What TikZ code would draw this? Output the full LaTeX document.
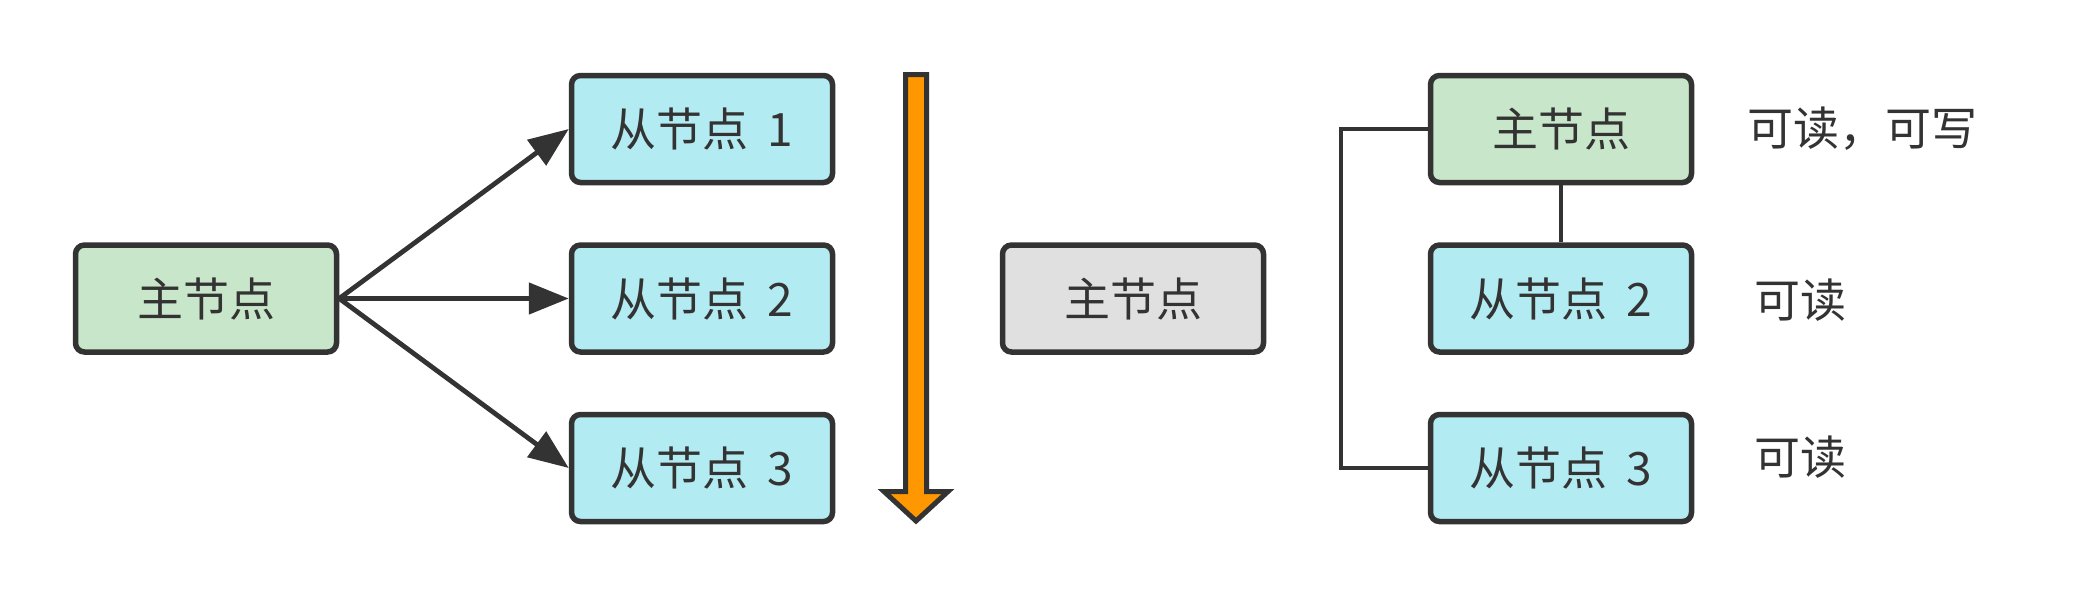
\documentclass[tikz,border=0pt]{standalone}
\usepackage{fontspec}
\setmainfont{Noto Sans CJK SC}
\usetikzlibrary{arrows.meta}
\definecolor{ink}{HTML}{333333}
\definecolor{mgreen}{HTML}{C8E6C9}
\definecolor{scyan}{HTML}{B2EBF2}
\definecolor{ogray}{HTML}{E0E0E0}
\definecolor{orng}{HTML}{FF9800}
\begin{document}
\begin{tikzpicture}[x=1pt,y=-1pt,
  box/.style={draw=ink, line width=5.5pt, rounded corners=9pt, minimum width=261pt, minimum height=107pt, inner sep=0pt, text=ink, font=\fontsize{46}{50}\selectfont},
  mbox/.style={box, fill=mgreen},
  sbox/.style={box, fill=scyan},
  gbox/.style={box, fill=ogray},
  conn/.style={draw=ink, line width=4.8pt},
  arr/.style={conn, -{Triangle[length=40pt,width=31pt]}},
  lbl/.style={anchor=west, inner sep=0pt, text=ink, font=\fontsize{46}{50}\selectfont}]
\useasboundingbox (0,0) rectangle (2076,597);
% left part
\node[mbox] (m) at (206,298.5) {主节点};
\node[sbox] (s1) at (702,129) {从节点\hspace{0.2em} 1};
\node[sbox] (s2) at (702,298.5) {从节点\hspace{0.2em} 2};
\node[sbox] (s3) at (702,468) {从节点\hspace{0.2em} 3};
\draw[arr] (m.east) -- (s1.west);
\draw[arr] (m.east) -- (s2.west);
\draw[arr] (m.east) -- (s3.west);
% orange arrow
\draw[draw=ink, fill=orng, line width=5pt, line join=miter]
  (905.5,74.5) -- (926.5,74.5) -- (926.5,491.5) -- (948,491.5) -- (916,521) -- (884,491.5) -- (905.5,491.5) -- cycle;
% middle
\node[gbox] (g) at (1133,298.5) {主节点};
% right part
\node[mbox] (rm) at (1561,129) {主节点};
\node[sbox] (r2) at (1561,298.5) {从节点\hspace{0.2em} 2};
\node[sbox] (r3) at (1561,468) {从节点\hspace{0.2em} 3};
\coordinate (b1) at (1341,129);
\coordinate (b2) at (1341,468);
\draw[conn] (rm.west) -- (b1) -- (b2) -- (r3.west);
\draw[conn] (rm.south) -- (r2.north);
\node[lbl] (l1) at (1747,129) {可读，可写};
\node[lbl] (l2) at (1754,300) {可读};
\node[lbl] (l3) at (1754,457) {可读};
\end{tikzpicture}
\end{document}
